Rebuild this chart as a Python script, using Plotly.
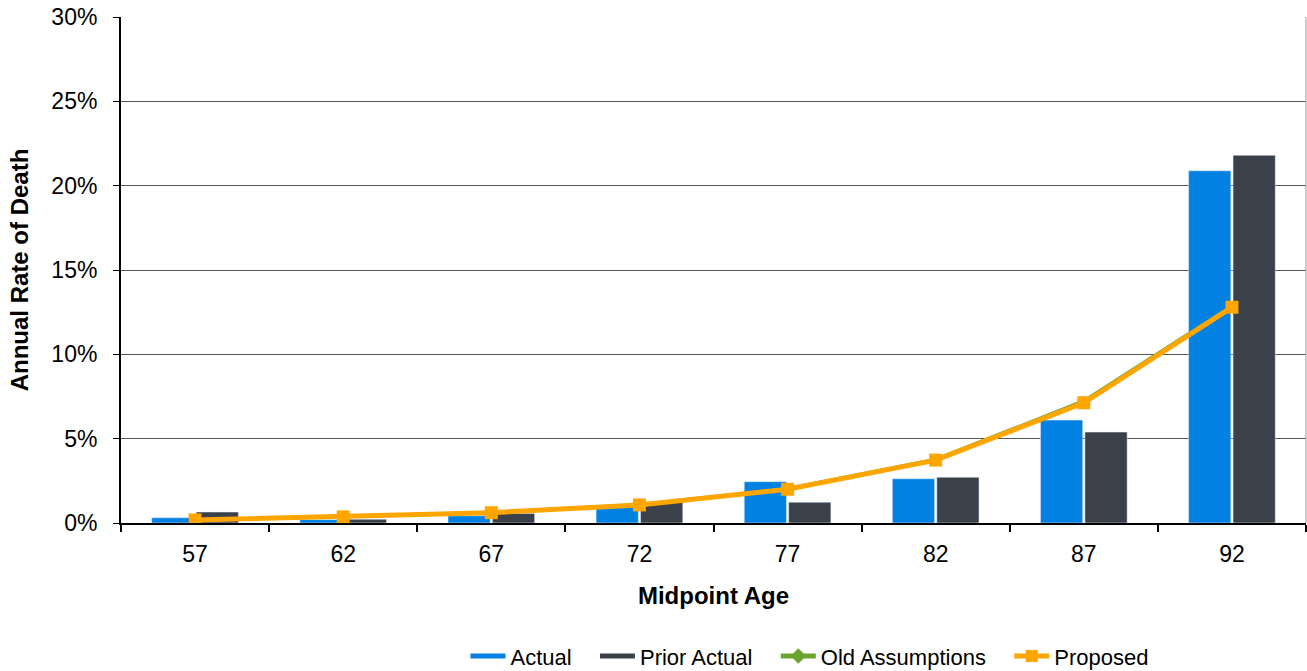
import plotly.graph_objects as go

ages = ["57", "62", "67", "72", "77", "82", "87", "92"]
actual = [0.31, 0.20, 0.43, 1.02, 2.45, 2.62, 6.10, 20.88]
prior_actual = [0.65, 0.22, 0.57, 1.23, 1.23, 2.71, 5.39, 21.80]
old_assumptions = [0.20, 0.38, 0.63, 1.10, 2.05, 3.78, 7.25, 12.88]
proposed = [0.18, 0.36, 0.61, 1.07, 2.00, 3.73, 7.13, 12.79]
y_ticks = [0, 5, 10, 15, 20, 25, 30]
y_tick_labels = ["0%", "5%", "10%", "15%", "20%", "25%", "30%"]

font_family = "Liberation Sans, Arial, sans-serif"
c_actual = "#0281E3"
c_prior = "#3B414B"
c_old = "#6AA532"
c_prop = "#FFA500"
pad = "&nbsp;&nbsp;&nbsp;"

fig = go.Figure()
fig.add_trace(go.Bar(x=ages, y=actual, name="Actual", marker=dict(color=c_actual), showlegend=False))
fig.add_trace(go.Bar(x=ages, y=prior_actual, name="Prior Actual", marker=dict(color=c_prior), showlegend=False))
fig.add_trace(go.Scatter(x=ages, y=old_assumptions, name="Old Assumptions", mode="lines+markers",
                         line=dict(color=c_old, width=3),
                         marker=dict(symbol="diamond", size=7, color=c_old), showlegend=False))
fig.add_trace(go.Scatter(x=ages, y=proposed, name="Proposed", mode="lines+markers",
                         line=dict(color=c_prop, width=5),
                         marker=dict(symbol="square", size=13, color=c_prop), showlegend=False))

# legend entries (rectangular swatches for bars, like the reference)
fig.add_trace(go.Scatter(x=[None], y=[None], name="Actual" + pad, mode="lines",
                         line=dict(color=c_actual, width=14)))
fig.add_trace(go.Scatter(x=[None], y=[None], name="Prior Actual" + pad, mode="lines",
                         line=dict(color=c_prior, width=14)))
fig.add_trace(go.Scatter(x=[None], y=[None], name="Old Assumptions" + pad, mode="lines+markers",
                         line=dict(color=c_old, width=4),
                         marker=dict(symbol="diamond", size=8, color=c_old)))
fig.add_trace(go.Scatter(x=[None], y=[None], name="Proposed", mode="lines+markers",
                         line=dict(color=c_prop, width=5),
                         marker=dict(symbol="square", size=11, color=c_prop)))

fig.update_layout(
    width=1307, height=671,
    margin=dict(l=121, r=1, t=17, b=148, autoexpand=False),
    paper_bgcolor="white", plot_bgcolor="white",
    font=dict(family=font_family, size=23, color="#000000"),
    barmode="group", bargap=0.4, bargroupgap=0.05,
    showlegend=True,
    legend=dict(orientation="h", x=0.581, xanchor="center",
                yref="container", y=0.022, yanchor="middle",
                font=dict(size=22), itemsizing="constant", traceorder="normal",
                tracegroupgap=0, itemwidth=35),
)
fig.update_xaxes(
    type="category", showline=True, linecolor="#000000", linewidth=2,
    ticks="outside", tickson="boundaries", ticklen=7, tickcolor="#000000", tickwidth=2,
    tickfont=dict(size=23), showgrid=False, ticklabelstandoff=9, automargin=False,
    title=dict(text="<b>Midpoint Age</b>", font=dict(size=24), standoff=22),
    mirror=False,
)
fig.update_yaxes(
    range=[0, 30], tickvals=y_ticks, ticktext=y_tick_labels,
    showline=True, linecolor="#000000", linewidth=2,
    ticks="outside", ticklen=6, tickcolor="#000000", tickwidth=1,
    tickfont=dict(size=23), showgrid=True, gridcolor="#555555", gridwidth=1,
    zeroline=False, ticklabelstandoff=11, automargin=False,
    title=dict(text="<b>Annual Rate of Death</b>", font=dict(size=24), standoff=16),
)
# right border of plot area
fig.add_shape(type="line", xref="paper", yref="paper", x0=1, x1=1, y0=0, y1=1,
              line=dict(color="#999999", width=1))

fig.write_html("out.html")
